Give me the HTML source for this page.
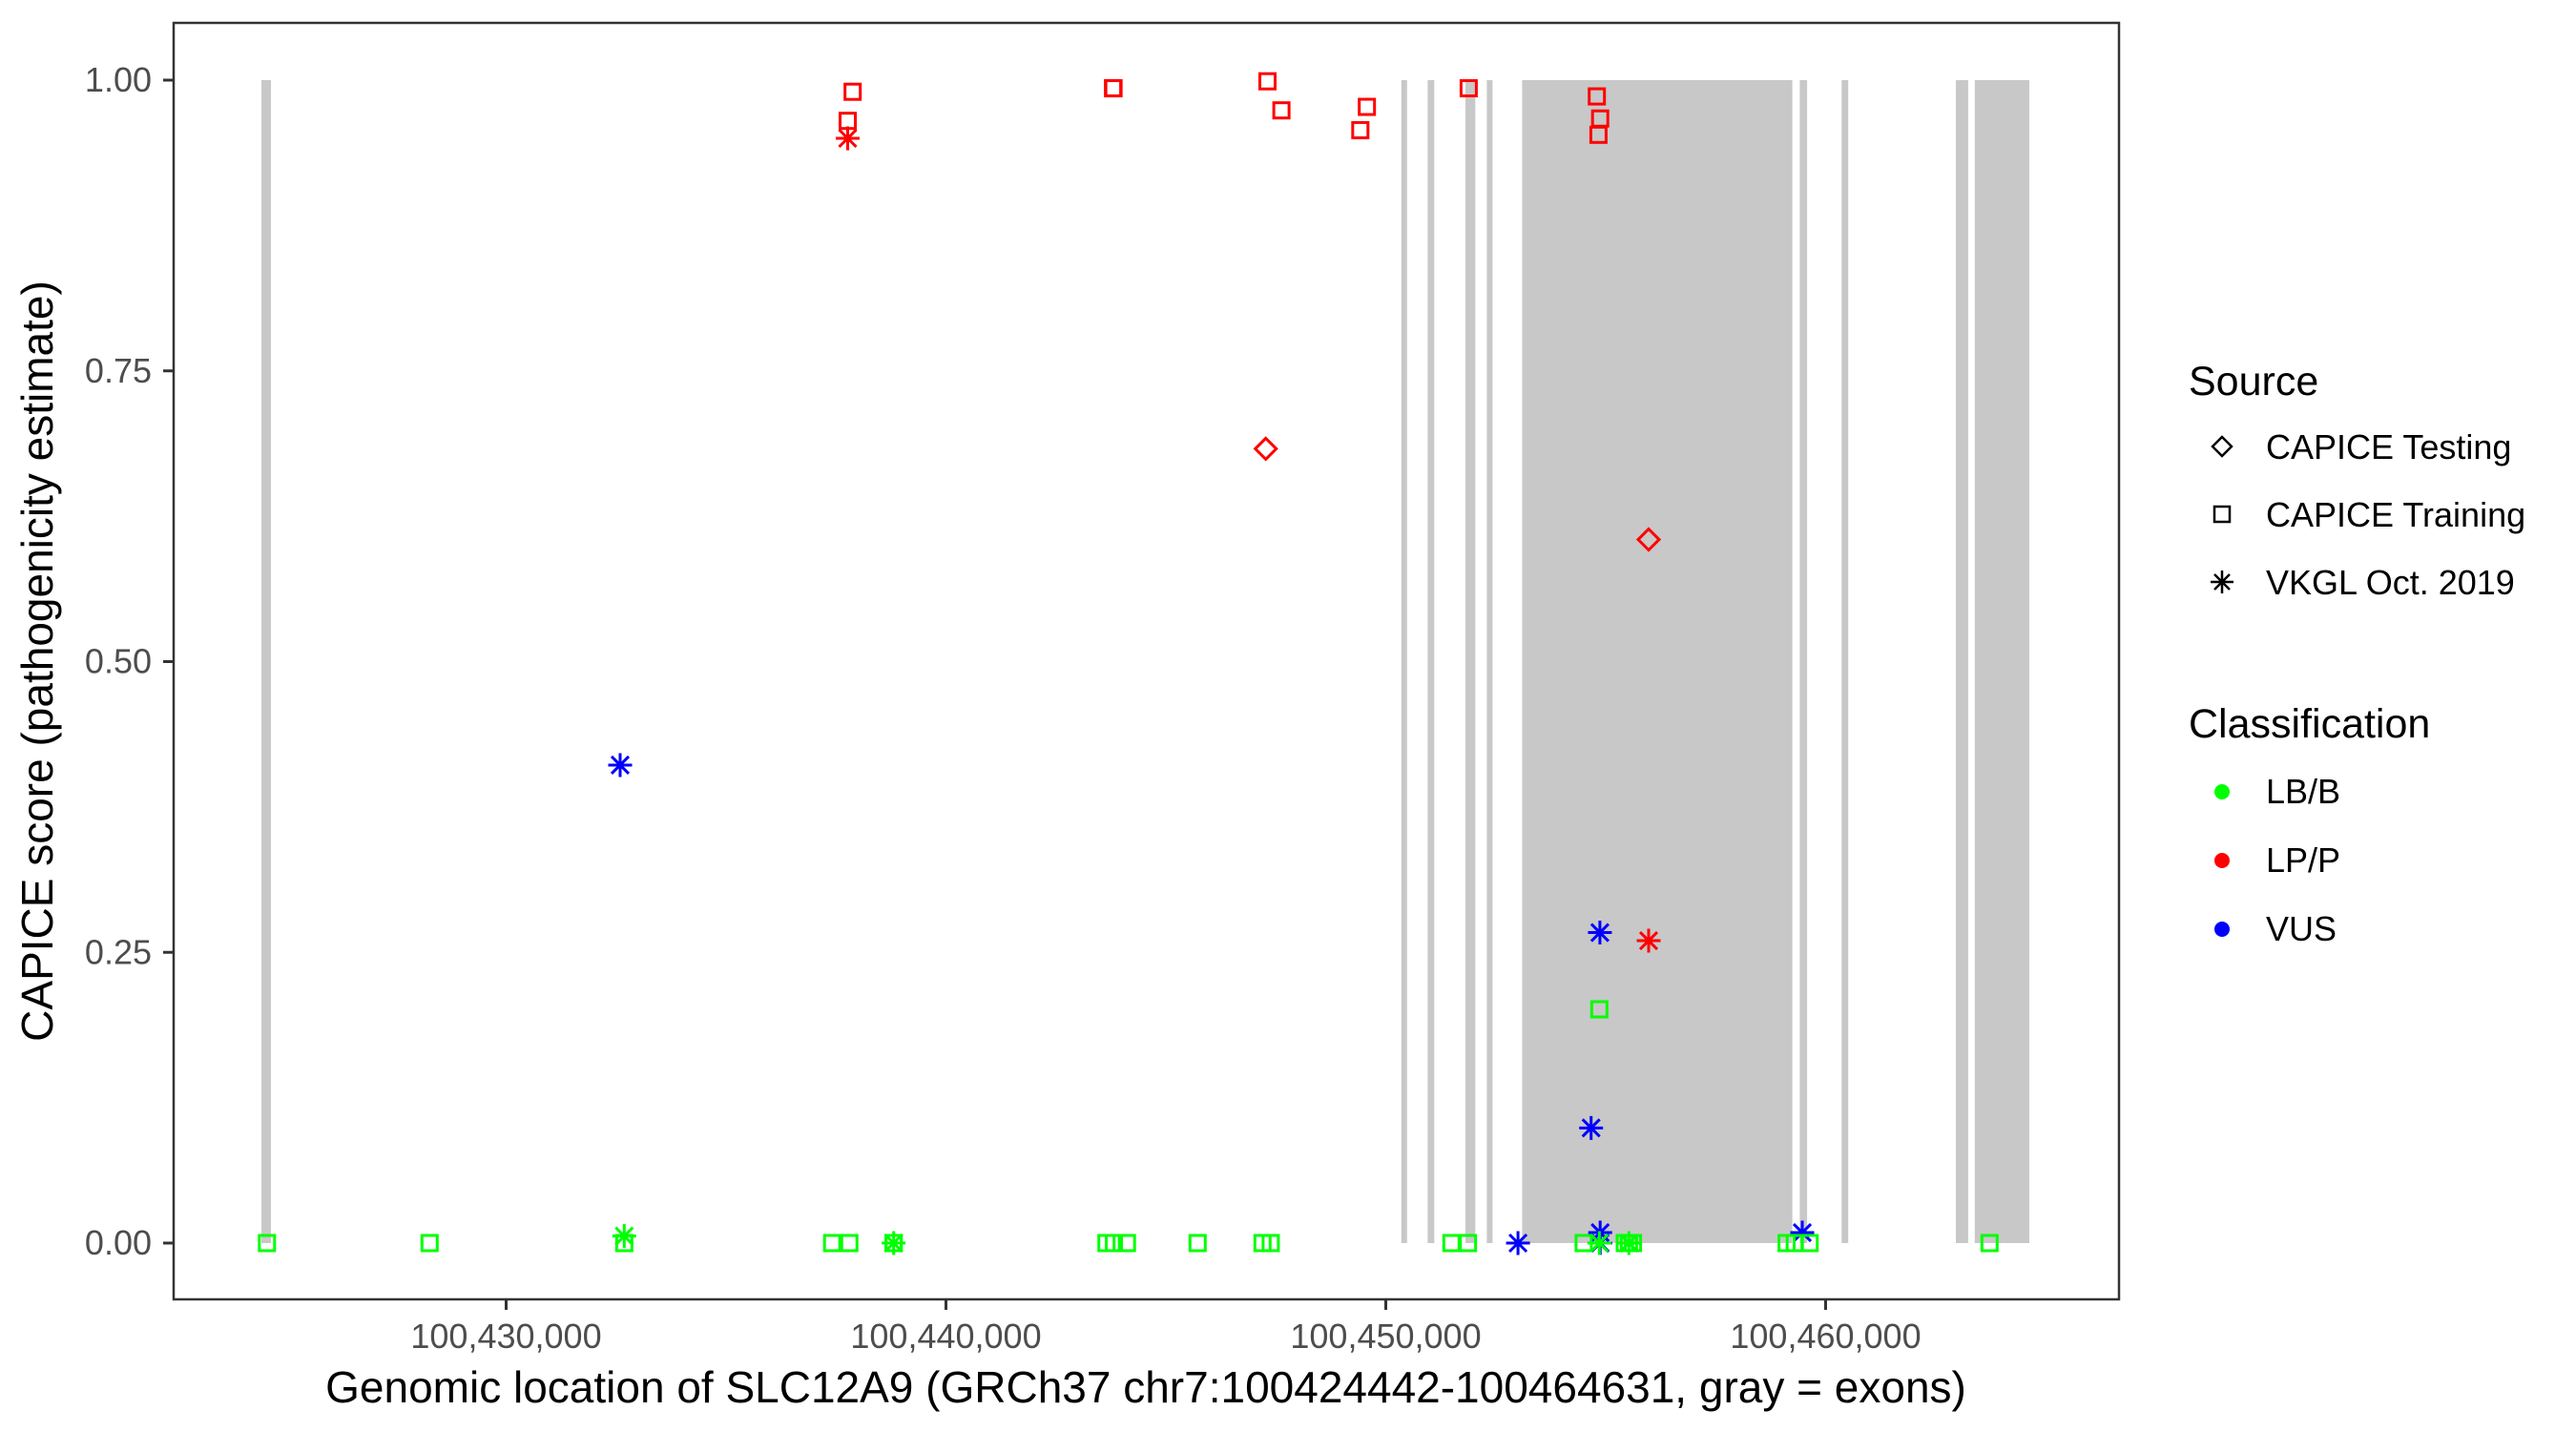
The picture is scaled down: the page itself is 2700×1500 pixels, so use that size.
<!DOCTYPE html>
<html><head><meta charset="utf-8"><style>
html,body{margin:0;padding:0;background:#fff;}
svg{display:block;font-family:"Liberation Sans",sans-serif;}
</style></head><body>
<svg id="chart" width="2700" height="1500" viewBox="0 0 2700 1500" xmlns="http://www.w3.org/2000/svg">
<rect x="0" y="0" width="2700" height="1500" fill="#fff"/>
<g id="exons"></g>
<g id="points"></g>
<rect x="182" y="24" width="2039" height="1338" fill="none" stroke="#333" stroke-width="2.5"/>
<g id="axes"></g>
<text x="1201" y="1470" font-size="46" text-anchor="middle" fill="#000">Genomic location of SLC12A9 (GRCh37 chr7:100424442-100464631, gray = exons)</text>
<text transform="translate(55,693) rotate(-90)" font-size="46" text-anchor="middle" fill="#000">CAPICE score (pathogenicity estimate)</text>
<g>
<text x="2294" y="414" font-size="43">Source</text>
<g>
<path d="M2329,458 l10,10 l-10,10 l-10,-10 z" fill="none" stroke="#000" stroke-width="2.5"/>
<text x="2375" y="481" font-size="36">CAPICE Testing</text></g>
<g>
<rect x="2321" y="531" width="16" height="16" fill="none" stroke="#000" stroke-width="2.5"/>
<text x="2375" y="552" font-size="36">CAPICE Training</text></g>
<g>
<path d="M2329,598 v24 M2317,610 h24 M2321,602 l16,16 M2321,618 l16,-16" stroke="#000" stroke-width="2.5"/>
<text x="2375" y="623" font-size="36">VKGL Oct. 2019</text></g>
<text x="2294" y="773" font-size="43">Classification</text>
<g><circle cx="2329" cy="830" r="8" fill="#00ff00"/><text x="2375" y="842" font-size="36">LB/B</text></g>
<g><circle cx="2329" cy="902" r="8" fill="#ff0000"/><text x="2375" y="914" font-size="36">LP/P</text></g>
<g><circle cx="2329" cy="974" r="8" fill="#0000ff"/><text x="2375" y="986" font-size="36">VUS</text></g>
</g>
</svg>
<script>
const exonStarts = [100424436,100450354,100450952,100451811,100452297,100453100,100459412,100460364,100462961,100463391];
const exonEnds   = [100424653,100450484,100451102,100452035,100452427,100459243,100459579,100460514,100463241,100464631];
const xTicks = [100430000,100440000,100450000,100460000];
const xTickLabels = ["100,430,000","100,440,000","100,450,000","100,460,000"];
const yTicks = [0,0.25,0.5,0.75,1];
const yTickLabels = ["0.00","0.25","0.50","0.75","1.00"];
const pointPos = [100437766,100437878,100443798,100443810,100447310,100447627,100449421,100449570,100451885,100454798,100454874,100454835,
 100437766,100455976,
 100447271,100455976,
 100432592,100454868,100454668,100453006,100454874,100454874,100459469,
 100454855,
 100424562,100428260,100432686,100437412,100437803,100438811,100438811,100443649,100443818,100444115,100445722,100447197,100447384,100451492,100451868,100454499,100455434,100455527,100455620,100459113,100459299,100459636,100463727,
 100432686,100438811,100454855,100455527];
const pointScore = [0.965,0.990,0.993,0.993,0.999,0.974,0.957,0.977,0.993,0.986,0.967,0.953,
 0.950,0.260,
 0.683,0.605,
 0.411,0.267,0.099,0,0.009,0,0.009,
 0.201,
 0,0,0,0,0,0,0,0,0,0,0,0,0,0,0,0,0,0,0,0,0,0,0,
 0.006,0,0,0];
const pointClass = ["LP","LP","LP","LP","LP","LP","LP","LP","LP","LP","LP","LP",
 "LP","LP","LP","LP",
 "VUS","VUS","VUS","VUS","VUS","VUS","VUS",
 "LB",
 "LB","LB","LB","LB","LB","LB","LB","LB","LB","LB","LB","LB","LB","LB","LB","LB","LB","LB","LB","LB","LB","LB","LB",
 "LB","LB","LB","LB"];
const pointSource = ["train","train","train","train","train","train","train","train","train","train","train","train",
 "vkgl","vkgl","test","test",
 "vkgl","vkgl","vkgl","vkgl","vkgl","vkgl","vkgl",
 "train",
 "train","train","train","train","train","train","train","train","train","train","train","train","train","train","train","train","train","train","train","train","train","train","train",
 "vkgl","vkgl","vkgl","vkgl"];
const colors = {LB:"#00ff00", LP:"#ff0000", VUS:"#0000ff"};
const NS="http://www.w3.org/2000/svg";
function xs(v){return 530.5+(v-100430000)*0.0461;}
function ys(v){return 1303-v*1219;}
function mk(tag,attrs,parent){const e=document.createElementNS(NS,tag);for(const k in attrs)e.setAttribute(k,attrs[k]);parent.appendChild(e);return e;}
const gEx=document.getElementById('exons');
for(let i=0;i<exonStarts.length;i++){
 const r=mk('rect',{x:xs(exonStarts[i]),y:ys(1),width:xs(exonEnds[i])-xs(exonStarts[i]),height:ys(0)-ys(1),fill:'#c8c8c8'},gEx);
 
 
}
const gAx=document.getElementById('axes');
for(let i=0;i<xTicks.length;i++){
 const x=xs(xTicks[i]);
 const l=mk('line',{x1:x,x2:x,y1:1362,y2:1373,stroke:'#333','stroke-width':3},gAx);
 
 
 const t=mk('text',{x:x,y:1413,'font-size':36,'text-anchor':'middle',fill:'#4d4d4d'},gAx);
 t.textContent=xTickLabels[i];
 
 
}
for(let i=0;i<yTicks.length;i++){
 const y=ys(yTicks[i]);
 const l=mk('line',{x1:171,x2:182,y1:y,y2:y,stroke:'#333','stroke-width':3},gAx);
 
 
 const t=mk('text',{x:159,y:y+12,'font-size':36,'text-anchor':'end',fill:'#4d4d4d'},gAx);
 t.textContent=yTickLabels[i];
 
 
}
const gP=document.getElementById('points');
for(let i=0;i<pointPos.length;i++){
 const x=xs(pointPos[i]), y=ys(pointScore[i]), c=colors[pointClass[i]];
 let e;
 if(pointSource[i]==='train'){
  e=mk('rect',{x:x-8,y:y-8,width:16,height:16,fill:'none',stroke:c,'stroke-width':3},gP);
 } else if(pointSource[i]==='test'){
  e=mk('path',{d:`M${x},${y-11} l11,11 l-11,11 l-11,-11 z`,fill:'none',stroke:c,'stroke-width':3},gP);
 } else {
  e=mk('path',{d:`M${x},${y-12.5} v25 M${x-12.5},${y} h25 M${x-9},${y-9} l18,18 M${x-9},${y+9} l18,-18`,fill:'none',stroke:c,'stroke-width':3},gP);
 }
 
 
}
</script>
</body></html>
